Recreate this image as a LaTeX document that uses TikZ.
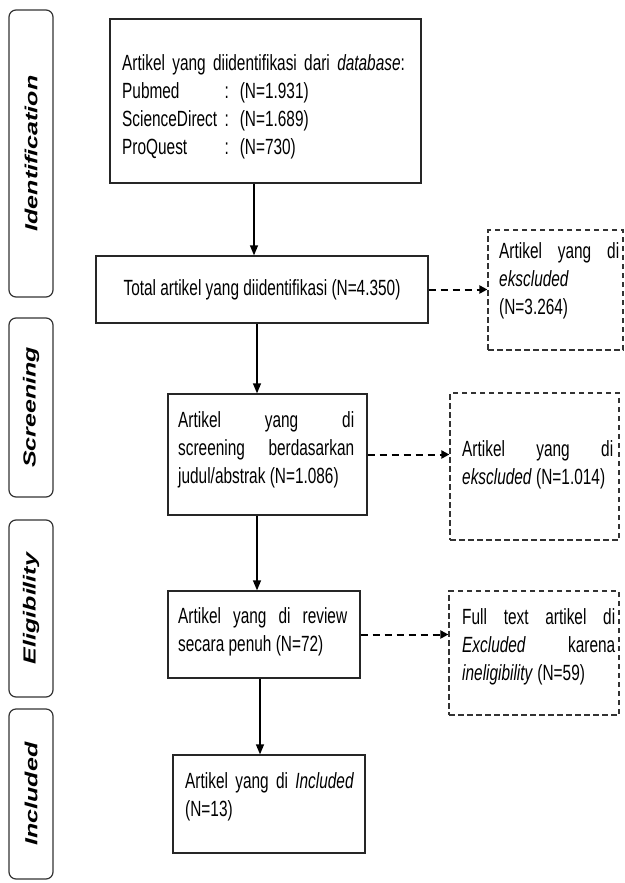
\documentclass[tikz,border=0pt]{standalone}
\usepackage{fontspec}
\setmainfont{Liberation Sans}[FakeStretch=0.70]
\newfontfamily\sidefont{Liberation Sans}
\usepackage{graphicx}
\usetikzlibrary{arrows.meta}
\setlength\parindent{0pt}
\hyphenpenalty=10000
\exhyphenpenalty=10000
\begin{document}
\begin{tikzpicture}[x=1pt,y=-1pt,
  txt/.style={font=\fontsize{22}{28}\selectfont, inner sep=0pt, anchor=north west, align=justify},
  box/.style={draw=black!85, line width=1.3pt, inner sep=0pt},
  dbox/.style={draw=black!80, line width=1.2pt, dash pattern=on 5.5pt off 3.5pt},
  side/.style={draw=black!80, line width=1.2pt, rounded corners=7pt, rotate=90, inner sep=0pt,
    font=\sidefont\bfseries\itshape\fontsize{25}{30}\selectfont},
  arr/.style={line width=1.3pt, -{Triangle[length=10pt,width=8pt]}},
  darr/.style={line width=2pt, dash pattern=on 7pt off 5pt, -{Triangle[length=8pt,width=8pt]}}
]
\useasboundingbox (0,0) rectangle (624,883);

% phase labels
\node[side, minimum width=287pt, minimum height=44pt] (s1) at (31,153.5) {\scalebox{1}[0.7]{Identification}};
\node[side, minimum width=179pt, minimum height=44pt] (s2) at (31,407.5) {\scalebox{1}[0.7]{Screening}};
\node[side, minimum width=177pt, minimum height=44pt] (s3) at (31,608.5) {\scalebox{1}[0.7]{Eligibility}};
\node[side, minimum width=170pt, minimum height=44pt] (s4) at (31,794) {\scalebox{1}[0.7]{Included}};

% main boxes
\node[box, minimum width=311pt, minimum height=164pt] (b1) at (265.5,101) {};
\node[box, minimum width=332pt, minimum height=67pt, font=\fontsize{22}{28}\selectfont] (b2) at (262,289.5) {Total artikel yang diidentifikasi (N=4.350)};
\node[box, minimum width=199pt, minimum height=121pt] (b3) at (267.5,454.5) {};
\node[box, minimum width=192pt, minimum height=87pt] (b4) at (264,634.5) {};
\node[box, minimum width=192pt, minimum height=98pt] (b5) at (269,804) {};

% excluded boxes
\node[dbox, minimum width=135pt, minimum height=120pt] (d1) at (555.5,290) {};
\node[dbox, minimum width=169pt, minimum height=147pt] (d2) at (534.5,466.5) {};
\node[dbox, minimum width=170pt, minimum height=124pt] (d3) at (534,653) {};

% texts
\node[txt, align=left, text width=295pt] (t1) at (122,54)
  {Artikel yang diidentifikasi dari \textit{database}:\\
   \leavevmode\rlap{Pubmed}\phantom{ScienceDirect} : (N=1.931)\\
   ScienceDirect : (N=1.689)\\
   \leavevmode\rlap{ProQuest}\phantom{ScienceDirect} : (N=730)};
\node[txt, text width=120pt] (td1) at (499,242)
  {Artikel yang di\linebreak \textit{ekscluded}\newline (N=3.264)};
\node[txt, text width=176pt] (tb3) at (178,411)
  {Artikel yang di\linebreak screening berdasarkan\linebreak judul/abstrak (N=1.086)};
\node[txt, text width=151pt] (td2) at (462,440)
  {Artikel yang di\linebreak \textit{ekscluded} (N=1.014)};
\node[txt, text width=169pt] (tb4) at (178,607)
  {Artikel yang di review\linebreak secara penuh (N=72)};
\node[txt, text width=153pt] (td3) at (462,608)
  {Full text artikel di\linebreak \textit{Excluded} karena\linebreak \textit{ineligibility} (N=59)};
\node[txt, text width=178pt, align=left] (tb5) at (185,772)
  {Artikel yang di \textit{Included}\\ (N=13)};

% connectors
\coordinate (c1) at (254,0);
\coordinate (c2) at (257,0);
\coordinate (c3) at (257,0);
\coordinate (c4) at (260,0);
\draw[arr] (b1.south -| c1) -- (b2.north -| c1);
\draw[arr] (b2.south -| c2) -- (b3.north -| c2);
\draw[arr] (b3.south -| c3) -- (b4.north -| c3);
\draw[arr] (b4.south -| c4) -- (b5.north -| c4);
\draw[darr] (b2.east) -- (d1.west |- b2.east);
\draw[darr] (b3.east) -- (d2.west |- b3.east);
\draw[darr] (b4.east) -- (d3.west |- b4.east);
\end{tikzpicture}
\end{document}
